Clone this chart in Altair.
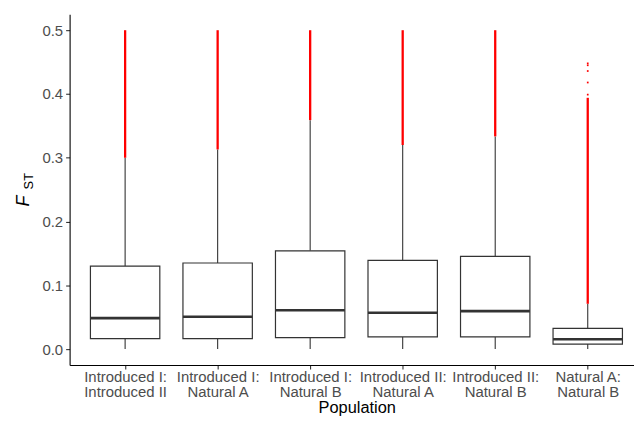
import json
import altair as alt
import pandas as pd

# ---- data ----
categories = [
    "Introduced I: Introduced II",
    "Introduced I: Natural A",
    "Introduced I: Natural B",
    "Introduced II: Natural A",
    "Introduced II: Natural B",
    "Natural A: Natural B",
]
label_lines = [
    ["Introduced I:", "Introduced II"],
    ["Introduced I:", "Natural A"],
    ["Introduced I:", "Natural B"],
    ["Introduced II:", "Natural A"],
    ["Introduced II:", "Natural B"],
    ["Natural A:", "Natural B"],
]
whisker_lo = [0.0, 0.0, 0.0, 0.0, 0.0, 0.0]
q1 = [0.0164, 0.0165, 0.018, 0.019, 0.019, 0.0078]
median = [0.0486, 0.0506, 0.061, 0.057, 0.0595, 0.0155]
q3 = [0.130, 0.135, 0.154, 0.139, 0.1455, 0.0325]
whisker_hi = [0.300, 0.313, 0.359, 0.320, 0.3335, 0.071]
outlier_hi = [0.500, 0.500, 0.500, 0.500, 0.500, 0.394]
sparse_outlier_cat = [6, 6, 6, 6, 6]
sparse_outlier_val = [0.399, 0.418, 0.436, 0.445, 0.448]

positions = list(range(1, len(categories) + 1))
half = 0.375

df = pd.DataFrame({
    "cat": categories,
    "pos": positions,
    "lo": [p - half for p in positions],
    "hi": [p + half for p in positions],
    "wlo": whisker_lo,
    "q1": q1,
    "med": median,
    "q3": q3,
    "whi": whisker_hi,
    "ohi": outlier_hi,
})
pts = pd.DataFrame({"pos": sparse_outlier_cat, "val": sparse_outlier_val})

FONT = "Liberation Sans"
DARK = "#333333"

xscale = alt.Scale(domain=[0.4, 6.5], nice=False, zero=False)
yscale = alt.Scale(domain=[-0.025, 0.525], nice=False, zero=False)

label_expr = json.dumps(label_lines) + "[datum.value - 1]"

x_axis = alt.Axis(
    values=positions, labelExpr=label_expr, title="Population",
    grid=False, domainColor="black", domainWidth=1.1,
    tickColor=DARK, tickSize=4, tickWidth=1.1,
    labelColor="#4d4d4d", labelFontSize=15, labelFont=FONT, labelPadding=1,
    labelOverlap=False, labelFlush=False, labelLineHeight=15,
    titleFont=FONT, titleFontSize=16.5, titleFontWeight="normal",
    titleColor="black", titleX=289, titleY=48, titleBaseline="alphabetic",
)
y_axis = alt.Axis(
    values=[0.0, 0.1, 0.2, 0.3, 0.4, 0.5], format=".1f", title=None,
    grid=False, domainColor="black", domainWidth=1.1,
    tickColor=DARK, tickSize=4, tickWidth=1.1,
    labelColor="#4d4d4d", labelFontSize=15, labelFont=FONT, labelPadding=3,
)

base = alt.Chart(df)

lower_whisker = base.mark_rule(color=DARK, strokeWidth=1.1).encode(
    x=alt.X("pos:Q", scale=xscale, axis=x_axis),
    y=alt.Y("wlo:Q", scale=yscale, axis=y_axis),
    y2="q1:Q",
)
upper_whisker = base.mark_rule(color=DARK, strokeWidth=1.1).encode(
    x=alt.X("pos:Q", scale=xscale), y=alt.Y("q3:Q", scale=yscale), y2="whi:Q"
)
outliers = base.mark_rule(color="#ff0000", strokeWidth=2.3).encode(
    x=alt.X("pos:Q", scale=xscale), y=alt.Y("whi:Q", scale=yscale), y2="ohi:Q"
)
boxes = base.mark_bar(fill="white", stroke=DARK, strokeWidth=1.2).encode(
    x=alt.X("lo:Q", scale=xscale), x2="hi:Q",
    y=alt.Y("q1:Q", scale=yscale), y2="q3:Q",
)
medians = base.mark_rule(color=DARK, strokeWidth=2.6).encode(
    x=alt.X("lo:Q", scale=xscale), x2="hi:Q", y=alt.Y("med:Q", scale=yscale)
)
points = alt.Chart(pts).mark_square(color="#ff0000", size=3, opacity=1).encode(
    x=alt.X("pos:Q", scale=xscale), y=alt.Y("val:Q", scale=yscale)
)

title_f = alt.Chart(pd.DataFrame({"t": ["F"]})).mark_text(
    text="F", font=FONT, fontSize=18, fontStyle="italic", angle=270,
    align="center", baseline="alphabetic", color="black",
).encode(x=alt.value(-41), y=alt.value(188))
title_st = alt.Chart(pd.DataFrame({"t": ["ST"]})).mark_text(
    text="ST", font=FONT, fontSize=13, angle=270,
    align="center", baseline="alphabetic", color="black",
).encode(x=alt.value(-37), y=alt.value(168))

chart = alt.layer(
    lower_whisker, upper_whisker, outliers, boxes, medians, points, title_f, title_st
).properties(
    width=568, height=353,
    background="white",
    autosize=alt.AutoSizeParams(type="none"),
    padding={"left": 62, "top": 5, "right": 0, "bottom": 50},
).configure_view(strokeWidth=0, stroke="transparent")

chart.save("out.html", embed_options={"renderer": "svg", "actions": False})
